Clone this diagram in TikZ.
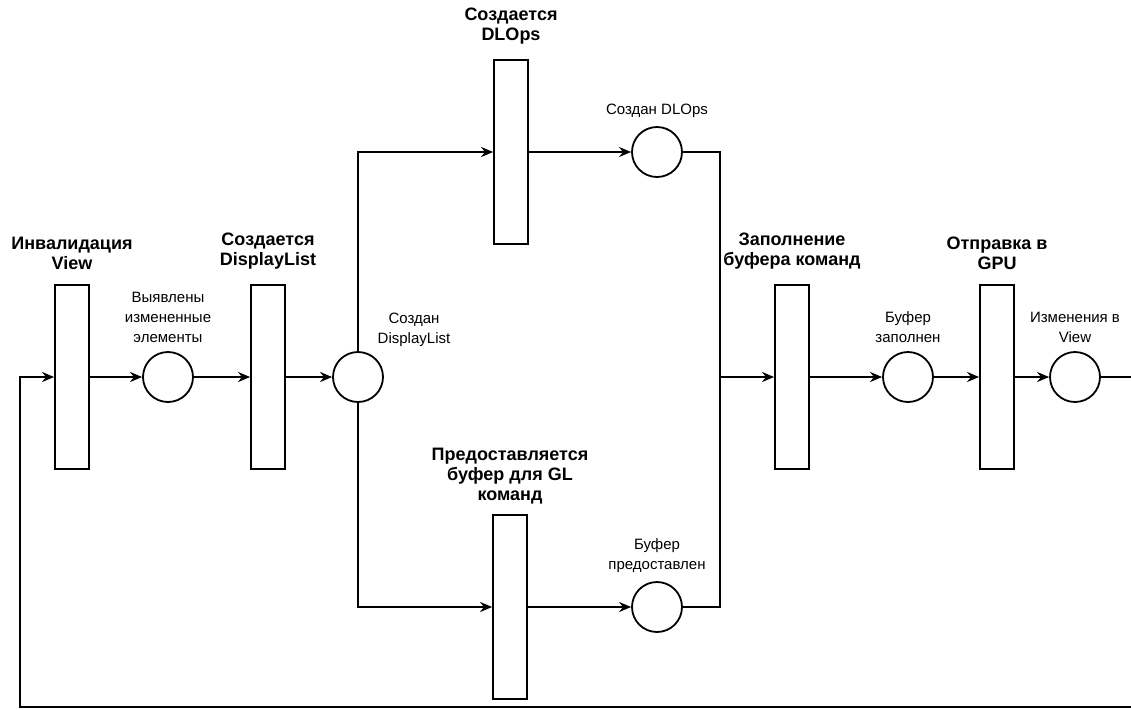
\documentclass[tikz,border=0pt]{standalone}
\usepackage{fontspec}
\setmainfont{Liberation Sans}
\usetikzlibrary{positioning,arrows.meta}
\begin{document}
\begin{tikzpicture}[x=0.5pt,y=-0.5pt,
  bar/.style={draw, line width=0.9pt, rectangle, minimum width=17pt, minimum height=92pt, inner sep=0pt},
  place/.style={draw, line width=0.9pt, circle, minimum size=25pt, inner sep=0pt},
  barlbl/.style={align=center, font=\fontsize{9}{10}\selectfont\bfseries, inner sep=1pt},
  smalllbl/.style={align=center, font=\fontsize{7.5}{10}\selectfont, inner sep=1pt},
  flow/.style={draw, line width=0.9pt, -{Stealth[length=6pt,width=5pt]}},
  wire/.style={draw, line width=0.9pt}]
\useasboundingbox (0,0) rectangle (1131,709);
% transitions
\node[bar] (inval) at (72,377) {};
\node[bar] (mklist) at (268,377) {};
\node[bar] (mkops) at (511,152) {};
\node[bar] (getbuf) at (510,607) {};
\node[bar] (fill) at (792,377) {};
\node[bar] (send) at (997,377) {};
% places
\node[place] (found) at (168,377) {};
\node[place] (list) at (358,377) {};
\node[place] (ops) at (657,152) {};
\node[place] (buf) at (657,607) {};
\node[place] (filled) at (908,377) {};
\node[place] (changed) at (1075,377) {};
% labels
\node[barlbl, above=6pt of inval] (inval-l) {Инвалидация\\View};
\node[barlbl, above=6pt of mklist] (mklist-l) {Создается\\DisplayList};
\node[barlbl, above=6pt of mkops] (mkops-l) {Создается\\DLOps};
\node[barlbl, above=4pt of getbuf] (getbuf-l) {Предоставляется\\буфер для GL\\команд};
\node[barlbl, above=6pt of fill] (fill-l) {Заполнение\\буфера команд};
\node[barlbl, above=6pt of send] (send-l) {Отправка в\\GPU};
\node[smalllbl, above=3pt of found] (found-l) {Выявлены\\измененные\\элементы};
\node[smalllbl] (list-l) at (414,330) {Создан\\DisplayList};
\node[smalllbl, above=3pt of ops] (ops-l) {Создан DLOps};
\node[smalllbl, above=3pt of buf] (buf-l) {Буфер\\предоставлен};
\node[smalllbl, above=3pt of filled] (filled-l) {Буфер\\заполнен};
\node[smalllbl, above=3pt of changed] (changed-l) {Изменения в\\View};
% helper points
\coordinate (join) at (720,377);
\coordinate (joinT) at (720,152);
\coordinate (joinB) at (720,607);
\coordinate (out) at (1131,377);
\coordinate (backR) at (1131,707);
\coordinate (backL) at (20,707);
\coordinate (backU) at (20,377);
% arcs
\path[flow] (inval) -- (found);
\path[flow] (found) -- (mklist);
\path[flow] (mklist) -- (list);
\path[flow] (list.north) |- (mkops.west);
\path[flow] (list.south) |- (getbuf.west);
\path[flow] (mkops) -- (ops);
\path[flow] (getbuf) -- (buf);
\path[wire] (ops.east) -- (joinT) -- (joinB) -- (buf.east);
\path[flow] (join) -- (fill.west);
\path[flow] (fill) -- (filled);
\path[flow] (filled) -- (send);
\path[flow] (send) -- (changed);
\path[wire] (changed) -- (out);
\path[flow] (backR) -- (backL) -- (backU) -- (inval.west);
\end{tikzpicture}
\end{document}
